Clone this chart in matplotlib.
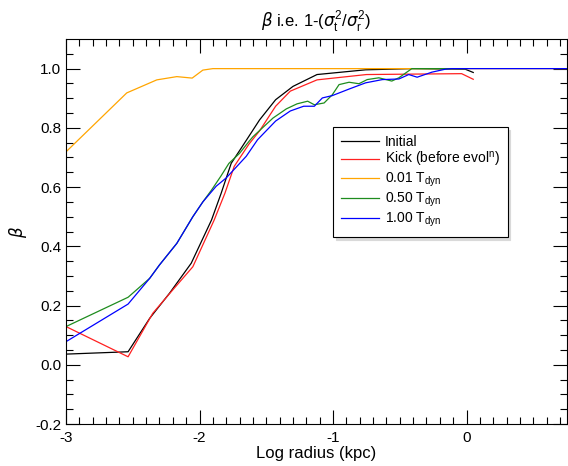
import numpy as np
import matplotlib.pyplot as plt

plt.rcParams['font.family'] = ['Liberation Sans', 'DejaVu Sans']
plt.rcParams['mathtext.fontset'] = 'custom'
plt.rcParams['mathtext.rm'] = 'Liberation Sans'
plt.rcParams['mathtext.it'] = 'DejaVu Sans:italic'

# profils de beta
x_init = [-3.0, -2.535, -2.373, -2.224, -2.062, -1.91, -1.838, -1.763, -1.69, -1.55,
          -1.43, -1.30, -1.12, -0.756, -0.41, -0.01, 0.05]
y_init = [0.036, 0.044, 0.157, 0.242, 0.343, 0.489, 0.579, 0.68, 0.73, 0.827,
          0.895, 0.94, 0.98, 0.996, 1.0, 0.998, 0.987]

x_kick = [-3.0, -2.535, -2.35, -2.2, -2.05, -1.89, -1.81, -1.74, -1.63, -1.55,
          -1.43, -1.32, -1.12, -0.75, -0.037, 0.05]
y_kick = [0.129, 0.027, 0.174, 0.253, 0.331, 0.489, 0.579, 0.67, 0.745, 0.79,
          0.873, 0.924, 0.962, 0.98, 0.983, 0.964]

x_001 = [-3.0, -2.545, -2.32, -2.17, -2.055, -1.975, -1.9, 0.8]
y_001 = [0.719, 0.918, 0.962, 0.973, 0.968, 0.995, 1.0, 1.0]

x_050 = [-3.0, -2.535, -2.373, -2.30, -2.17, -2.05, -1.975, -1.91, -1.84, -1.78,
         -1.70, -1.63, -1.60, -1.45, -1.35, -1.27, -1.19, -1.14, -1.067, -1.005,
         -0.955, -0.88, -0.806, -0.744, -0.657, -0.56, -0.507, -0.41, 0.0]
y_050 = [0.129, 0.228, 0.292, 0.337, 0.41, 0.50, 0.55, 0.59, 0.637, 0.68,
         0.714, 0.754, 0.77, 0.833, 0.864, 0.881, 0.89, 0.878, 0.884, 0.912,
         0.946, 0.954, 0.949, 0.963, 0.969, 0.958, 0.969, 1.0, 1.0]

x_100 = [-3.0, -2.535, -2.373, -2.30, -2.17, -2.05, -1.975, -1.875, -1.80, -1.73,
         -1.65, -1.565, -1.43, -1.32, -1.22, -1.14, -1.08, -1.005, -0.88, -0.756,
         -0.63, -0.507, -0.433, -0.37, -0.26, -0.16, -0.11, 0.8]
y_100 = [0.078, 0.205, 0.292, 0.337, 0.41, 0.50, 0.55, 0.603, 0.631, 0.665,
         0.704, 0.76, 0.823, 0.857, 0.873, 0.873, 0.901, 0.909, 0.931, 0.952,
         0.963, 0.965, 0.98, 0.971, 0.988, 0.998, 1.0, 1.0]

fig = plt.figure(figsize=(5.68, 4.66), dpi=100)
ax = fig.add_axes([0.1162, 0.0901, 0.8815, 0.8262])

lw = 0.9
ax.plot(x_init, y_init, color='black', lw=lw, label='Initial')
ax.plot(x_kick, y_kick, color='#ff2020', lw=lw, label=r'Kick (before evol$^{\rm n}$)')
ax.plot(x_001, y_001, color='#ffa500', lw=lw, label=r'0.01 T$_{\rm dyn}$')
ax.plot(x_050, y_050, color='#1e8c1e', lw=lw, label=r'0.50 T$_{\rm dyn}$')
ax.plot(x_100, y_100, color='#0000ff', lw=lw, label=r'1.00 T$_{\rm dyn}$')

ax.set_xlim(-3, 0.75)
ax.set_ylim(-0.2, 1.1)
ax.set_xticks([-3, -2, -1, 0])
ax.set_xticklabels(['-3', '-2', '-1', '0'])
ax.set_xticks(np.arange(-3, 0.76, 0.1), minor=True)
ax.set_yticks(np.arange(-0.2, 1.01, 0.2))
ax.set_yticklabels(['%.1f' % v for v in np.arange(-0.2, 1.01, 0.2)])
ax.set_yticks(np.arange(-0.2, 1.1, 0.05), minor=True)
ax.tick_params(which='both', direction='in', top=True, right=True, labelsize=11)
ax.tick_params(which='major', length=10, width=0.8)
ax.tick_params(which='minor', length=5, width=0.8)
ax.tick_params(axis='x', pad=5)

ax.set_title(r'$\beta$ i.e. 1-($\sigma_{\rm t}^2$/$\sigma_{\rm r}^2$)', fontsize=12, pad=9)
ax.set_xlabel('Log radius (kpc)', fontsize=12, labelpad=1)
ax.set_ylabel(r'$\beta$', fontsize=12)

leg = ax.legend(loc='upper left', bbox_to_anchor=(0.533, 0.771), borderaxespad=0,
                fontsize=10, fancybox=False, edgecolor='black', framealpha=1,
                handlelength=2.8, handletextpad=0.4, labelspacing=0.12, borderpad=0.55,
                shadow={'color': '0.85', 'alpha': 1.0, 'ox': 2, 'oy': -2})
leg.get_frame().set_linewidth(0.8)

plt.savefig('out.png', dpi=100)
